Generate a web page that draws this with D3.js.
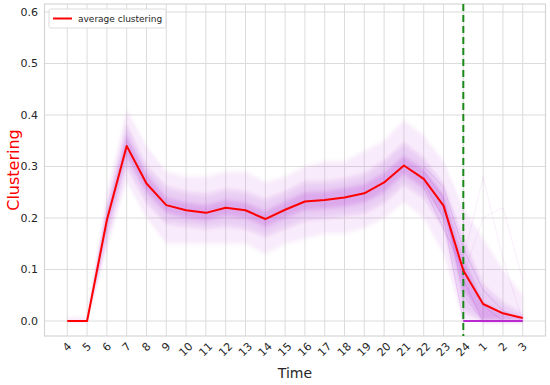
<!DOCTYPE html>
<html>
<head>
<meta charset="utf-8">
<script src="https://d3js.org/d3.v7.min.js"></script>
<style>
  body { margin: 0; background: #fff; }
  text { font-family: "DejaVu Sans", sans-serif; }
</style>
</head>
<body>
<div id="chart"></div>
<script>
// hours of the day, from 4 am round to 3 am
var hours = ["4","5","6","7","8","9","10","11","12","13","14","15","16","17","18","19","20","21","22","23","24","1","2","3"];

var avgClustering = [0, 0, 0.196, 0.340, 0.267, 0.225, 0.215, 0.210, 0.220, 0.215, 0.198, 0.216,
                     0.232, 0.235, 0.240, 0.248, 0.269, 0.302, 0.276, 0.224, 0.098, 0.033, 0.015, 0.006];

// spread of the single-day traces (faint purple), outer -> inner
var outerLow  = [0, 0, 0.14, 0.27, 0.20, 0.15, 0.15, 0.15, 0.15, 0.15, 0.13, 0.15, 0.16, 0.17, 0.17, 0.18, 0.20, 0.23, 0.20, 0.13, 0, 0, 0, 0];
var outerHigh = [0.005, 0.005, 0.25, 0.41, 0.34, 0.29, 0.28, 0.28, 0.29, 0.29, 0.27, 0.28, 0.30, 0.31, 0.31, 0.33, 0.35, 0.39, 0.36, 0.31, 0.22, 0.16, 0.10, 0.05];
var midLow    = [0, 0, 0.16, 0.30, 0.23, 0.19, 0.185, 0.18, 0.185, 0.18, 0.165, 0.18, 0.195, 0.20, 0.205, 0.21, 0.23, 0.265, 0.24, 0.18, 0.02, 0, 0, 0];
var midHigh   = [0.002, 0.002, 0.22, 0.38, 0.30, 0.26, 0.25, 0.245, 0.255, 0.25, 0.235, 0.25, 0.27, 0.27, 0.275, 0.285, 0.31, 0.345, 0.315, 0.265, 0.16, 0.07, 0.035, 0.012];
var coreLow   = [0, 0, 0.18, 0.32, 0.25, 0.21, 0.20, 0.195, 0.205, 0.20, 0.183, 0.20, 0.215, 0.218, 0.222, 0.23, 0.25, 0.285, 0.258, 0.20, 0.06, 0, 0, 0];
var coreHigh  = [0.001, 0.001, 0.21, 0.36, 0.285, 0.24, 0.23, 0.225, 0.235, 0.23, 0.213, 0.232, 0.25, 0.252, 0.258, 0.266, 0.288, 0.32, 0.295, 0.245, 0.125, 0.035, 0.015, 0.006];

// a few traces that drop out after 23 h
var tailA = [null,null,null,null,null,null,null,null,null,null,null,null,null,null,null,null,null,null,0.27,0.20,0,0,0,0];
var tailB = [null,null,null,null,null,null,null,null,null,null,null,null,null,null,null,null,null,null,0.29,0.24,0.05,0,0,0];
var tailC = [null,null,null,null,null,null,null,null,null,null,null,null,null,null,null,null,null,null,0.26,0.18,0.10,0.03,0,0];
var tailD = [null,null,null,null,null,null,null,null,null,null,null,null,null,null,null,null,null,null,0.30,0.26,0.14,0.06,0.02,0];
var tailE = [null,null,null,null,null,null,null,null,null,null,null,null,null,null,null,null,null,null,0.28,0.22,0.08,0,0,0];
var tailF = [null,null,null,null,null,null,null,null,null,null,null,null,null,null,null,null,null,null,null,null,0.12,0.28,0.12,0];
var tailG = [null,null,null,null,null,null,null,null,null,null,null,null,null,null,null,null,null,null,null,null,0.09,0.20,0.22,0.08];
var zeroTail = [null,null,null,null,null,null,null,null,null,null,null,null,null,null,null,null,null,null,null,null,0,0,0,0];

var yTicks = [0, 0.1, 0.2, 0.3, 0.4, 0.5, 0.6];
var markHour = "24";

var W = 550, H = 385;
var padL = 44.5, padR = 545.5, padT = 4, padB = 336;
var purple = "#a41ccc";

var svg = d3.select("#chart").append("svg")
    .attr("width", W)
    .attr("height", H)
    .style("background-color", "white");

var defs = svg.append("defs");
defs.append("filter")
    .attr("id", "soft")
    .attr("x", "-5%").attr("y", "-20%")
    .attr("width", "110%").attr("height", "140%")
    .append("feGaussianBlur")
    .attr("stdDeviation", "1.2 2.2");

var x = d3.scalePoint()
    .domain(hours)
    .range([padL, padR])
    .padding(1.15);

var y = d3.scaleLinear()
    .domain([-0.0291, 0.6155])
    .range([padB, padT]);

// grid
var grid = svg.append("g").attr("class", "grid");
grid.selectAll("line.v")
    .data(hours)
    .enter()
    .append("line")
    .attr("x1", function(d) { return x(d); })
    .attr("x2", function(d) { return x(d); })
    .attr("y1", padT)
    .attr("y2", padB)
    .attr("stroke", "#dcdcdc")
    .attr("stroke-width", 1);
grid.selectAll("line.h")
    .data(yTicks)
    .enter()
    .append("line")
    .attr("x1", padL)
    .attr("x2", padR)
    .attr("y1", function(d) { return y(d); })
    .attr("y2", function(d) { return y(d); })
    .attr("stroke", "#dcdcdc")
    .attr("stroke-width", 1);

svg.append("rect")
    .attr("x", padL)
    .attr("y", padT)
    .attr("width", padR - padL)
    .attr("height", padB - padT)
    .attr("fill", "none")
    .attr("stroke", "#d6d6d6")
    .attr("stroke-width", 1.2);

// bands
function band(lo, hi) {
    return d3.area()
        .x(function(d, i) { return x(hours[i]); })
        .y0(function(d, i) { return y(lo[i]); })
        .y1(function(d, i) { return y(hi[i]); })(hours);
}
var bands = svg.append("g").attr("class", "bands").attr("filter", "url(#soft)");
[[outerLow, outerHigh, 0.08], [midLow, midHigh, 0.16], [coreLow, coreHigh, 0.2]].forEach(function(b) {
    bands.append("path")
        .attr("d", band(b[0], b[1]))
        .attr("fill", purple)
        .attr("fill-opacity", b[2])
        .attr("stroke", "none");
});

var line = d3.line()
    .defined(function(d) { return d != null; })
    .x(function(d, i) { return x(hours[i]); })
    .y(function(d) { return y(d); });

svg.append("g")
    .attr("class", "tails")
    .selectAll("path")
    .data([tailA, tailB, tailC, tailD, tailE, tailF, tailG])
    .enter()
    .append("path")
    .attr("d", line)
    .attr("fill", "none")
    .attr("stroke", purple)
    .attr("stroke-opacity", function(d, i) { return i < 5 ? 0.16 : 0.07; })
    .attr("stroke-width", 1);

svg.append("path")
    .attr("d", line(zeroTail))
    .attr("fill", "none")
    .attr("stroke", "#b82ad0")
    .attr("stroke-width", 2);

// green marker at 24
svg.append("line")
    .attr("x1", x(markHour))
    .attr("x2", x(markHour))
    .attr("y1", padT)
    .attr("y2", padB)
    .attr("stroke", "#1a8a1a")
    .attr("stroke-width", 2)
    .attr("stroke-dasharray", "7,4");

// average line
svg.append("path")
    .attr("d", line(avgClustering))
    .attr("fill", "none")
    .attr("stroke", "#ff0000")
    .attr("stroke-width", 2)
    .attr("stroke-linejoin", "round");

// y tick labels
svg.append("g")
    .selectAll("text")
    .data(yTicks)
    .enter()
    .append("text")
    .attr("x", 38)
    .attr("y", function(d) { return y(d); })
    .attr("dy", "0.35em")
    .attr("text-anchor", "end")
    .style("font-size", "11px")
    .style("fill", "#262626")
    .text(function(d) { return d3.format(".1f")(d); });

// x tick labels, rotated 45
var xl = svg.append("g")
    .selectAll("text")
    .data(hours)
    .enter()
    .append("text")
    .attr("text-anchor", "middle")
    .attr("dominant-baseline", "central")
    .style("font-size", "11px")
    .style("fill", "#262626")
    .text(function(d) { return d; });
xl.attr("transform", function(d) {
    var w = this.getComputedTextLength();
    var half = (w + 10) / (2 * Math.SQRT2);
    return "translate(" + x(d) + "," + (padB + 5 + half) + ") rotate(-45)";
});

svg.append("text")
    .attr("x", (padL + padR) / 2)
    .attr("y", 378)
    .attr("text-anchor", "middle")
    .style("font-size", "14px")
    .style("fill", "#262626")
    .text("Time");

svg.append("text")
    .attr("transform", "translate(19," + ((padT + padB) / 2) + ") rotate(-90)")
    .attr("text-anchor", "middle")
    .style("font-size", "16px")
    .style("fill", "#ff0000")
    .text("Clustering");

// legend
var lg = svg.append("g").attr("class", "legend");
lg.append("rect")
    .attr("x", 49)
    .attr("y", 9)
    .attr("width", 117)
    .attr("height", 19)
    .attr("rx", 2)
    .attr("fill", "white")
    .attr("fill-opacity", 0.85)
    .attr("stroke", "#dddddd");
lg.append("line")
    .attr("x1", 53)
    .attr("x2", 72)
    .attr("y1", 18.5)
    .attr("y2", 18.5)
    .attr("stroke", "#ff0000")
    .attr("stroke-width", 2);
lg.append("text")
    .attr("x", 78)
    .attr("y", 18.5)
    .attr("dy", "0.35em")
    .style("font-size", "9px")
    .style("fill", "#262626")
    .text("average clustering");
</script>
</body>
</html>
